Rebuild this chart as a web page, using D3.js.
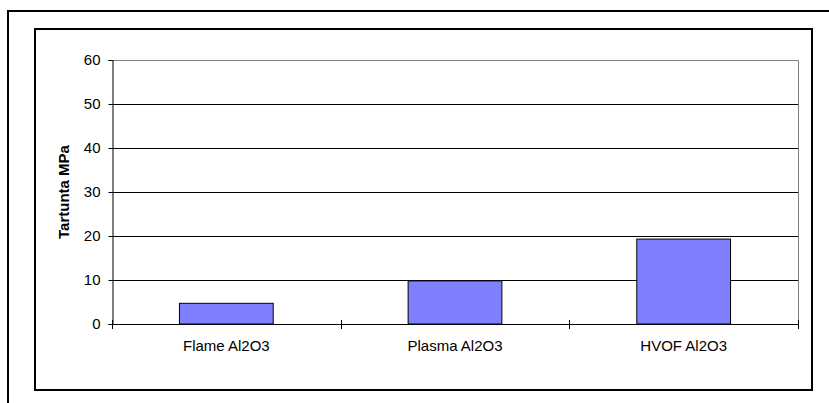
<!DOCTYPE html>
<html>
<head>
<meta charset="utf-8">
<script src="https://cdn.jsdelivr.net/npm/d3@7"></script>
<style>
  html, body { margin: 0; padding: 0; background: #fff; }
  svg { display: block; font-family: "Liberation Sans", Arial, sans-serif; }
</style>
</head>
<body>
<svg id="chart" width="829" height="403"></svg>
<script>
// Adhesion strength of Al2O3 coatings by spray process
const categories = ["Flame Al2O3", "Plasma Al2O3", "HVOF Al2O3"];
const values = [4.7, 9.8, 19.3];
const yTicks = [0, 10, 20, 30, 40, 50, 60];
const yTitle = "Tartunta MPa";

const svg = d3.select("#chart");
const plot = { left: 112, right: 798, top: 60, bottom: 324 };

// frames
svg.append("rect").attr("x", 8).attr("y", 11).attr("width", 840).attr("height", 420)
  .attr("fill", "none").attr("stroke", "#000").attr("stroke-width", 2);
svg.append("rect").attr("x", 35).attr("y", 29).attr("width", 777).attr("height", 361)
  .attr("fill", "#fff").attr("stroke", "#000").attr("stroke-width", 2);

const x = d3.scaleBand().domain(categories).range([plot.left, plot.right]).paddingInner(0).paddingOuter(0);
const y = d3.scaleLinear().domain([0, 60]).range([plot.bottom, plot.top]);

// gridlines
svg.append("g").selectAll("line").data(yTicks.filter(d => d > 0 && d < 60)).join("line")
  .attr("x1", plot.left).attr("x2", plot.right)
  .attr("y1", d => Math.round(y(d)) + 0.5).attr("y2", d => Math.round(y(d)) + 0.5)
  .attr("stroke", "#000").attr("stroke-width", 1);

// plot area border (top and right)
svg.append("path")
  .attr("d", `M${plot.left},${y(60) + 0.5}H${plot.right + 0.5}V${plot.bottom}`)
  .attr("fill", "none").attr("stroke", "#808080").attr("stroke-width", 1);

// bars
const bw = x.bandwidth() * 0.41;
svg.append("g").selectAll("rect").data(categories).join("rect")
  .attr("x", d => x(d) + (x.bandwidth() - bw) / 2)
  .attr("y", (d, i) => y(values[i]))
  .attr("width", bw)
  .attr("height", (d, i) => y(0) - y(values[i]))
  .attr("fill", "#8080ff").attr("stroke", "#000").attr("stroke-width", 1);

// y axis
const yAxis = d3.axisLeft(y).tickValues(yTicks).tickSize(4).tickPadding(8);
const gy = svg.append("g").attr("transform", `translate(${plot.left + 0.5},0)`).call(yAxis);
gy.select(".domain").attr("stroke", "#000");
gy.selectAll(".tick line").attr("stroke", "#000");
gy.selectAll("text").attr("font-size", 15).attr("fill", "#000")
  .attr("font-family", "Liberation Sans, Arial, sans-serif");

// x axis: baseline with ticks at category boundaries
svg.append("line").attr("x1", plot.left).attr("x2", plot.right)
  .attr("y1", plot.bottom + 0.5).attr("y2", plot.bottom + 0.5).attr("stroke", "#000");
const bounds = categories.map(c => x(c)).concat([plot.right]);
svg.append("g").selectAll("line").data(bounds).join("line")
  .attr("x1", d => Math.round(d) + 0.5).attr("x2", d => Math.round(d) + 0.5)
  .attr("y1", plot.bottom - 4).attr("y2", plot.bottom + 5)
  .attr("stroke", "#000").attr("stroke-width", 1);
svg.append("g").selectAll("text").data(categories).join("text")
  .attr("x", d => x(d) + x.bandwidth() / 2)
  .attr("y", plot.bottom + 27)
  .attr("text-anchor", "middle").attr("font-size", 15).attr("fill", "#000")
  .text(d => d);

// y title
svg.append("text")
  .attr("transform", `translate(69,${(plot.top + plot.bottom) / 2}) rotate(-90)`)
  .attr("text-anchor", "middle").attr("font-size", 15).attr("font-weight", "bold")
  .text(yTitle);
</script>
</body>
</html>
